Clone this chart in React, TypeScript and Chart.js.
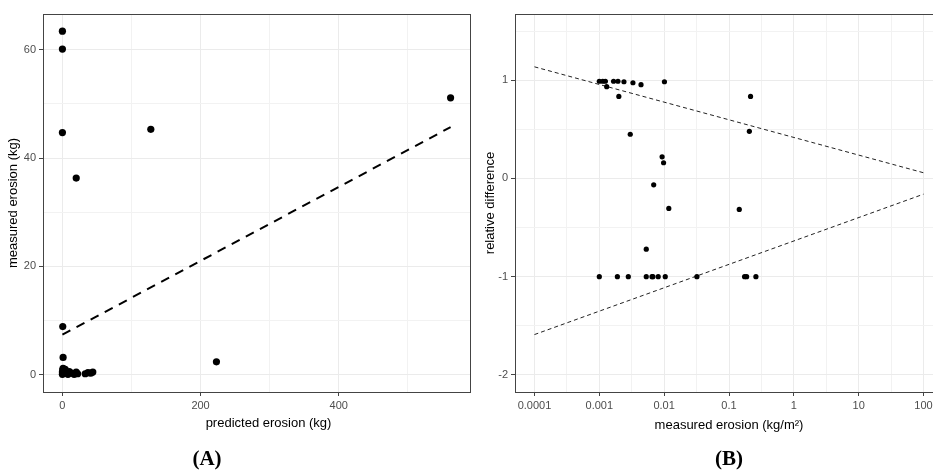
import React, { useEffect, useRef } from 'react';
import { Chart, registerables } from 'chart.js';

Chart.register(...registerables);

// ---------- Panel A: measured vs predicted erosion ----------
const predictedKg = [0, 0, 0, 20, 128, 562, 0.5, 1, 223, 0, 0, 0.5, 1, 2, 3, 4, 6, 8, 10, 13, 17, 20, 22, 33, 37, 41, 44];
const measuredKg = [63.4, 60.1, 44.7, 36.3, 45.3, 51.1, 8.9, 3.2, 2.4, 0.1, 0.5, 0.9, 1.2, 0.3, 0.7, 1.0, 0.4, 0.1, 0.6, 0.3, 0.1, 0.5, 0.2, 0.2, 0.4, 0.3, 0.5];
const fitPredictedKg = [0, 562];
const fitMeasuredKg = [7.4, 45.7];
const xTicksA = [0, 100, 200, 300, 400, 500];
const xLabelsA = ['0', '', '200', '', '400', ''];
const yTicksA = [0, 10, 20, 30, 40, 50, 60];
const yLabelsA = ['0', '', '20', '', '40', '', '60'];

// ---------- Panel B: relative difference vs measured erosion ----------
const measuredKgM2 = [0.001, 0.00113, 0.00124, 0.0013, 0.00166, 0.00194, 0.002, 0.0024, 0.0033, 0.003, 0.0044, 0.0101, 0.0093, 0.0098, 0.0069, 0.0118, 0.144, 0.206, 0.215, 0.001, 0.0019, 0.0028, 0.0053, 0.0065, 0.0067, 0.0081, 0.0104, 0.032, 0.174, 0.187, 0.26, 0.0053];
const relativeDiff = [0.99, 0.99, 0.99, 0.935, 0.99, 0.99, 0.835, 0.985, 0.975, 0.45, 0.955, 0.985, 0.22, 0.16, -0.065, -0.305, -0.315, 0.48, 0.835, -1, -1, -1, -1, -1, -1, -1, -1, -1, -1, -1, -1, -0.72];
const limitX = [0.0001, 100];
const upperLimitY = [1.137, 0.058];
const lowerLimitY = [-1.59, -0.16];
const xTicksB = [1e-4, Math.pow(10, -3.5), 1e-3, Math.pow(10, -2.5), 1e-2, Math.pow(10, -1.5), 1e-1, Math.pow(10, -0.5), 1, Math.pow(10, 0.5), 10, Math.pow(10, 1.5), 100];
const xLabelsB = ['0.0001', '', '0.001', '', '0.01', '', '0.1', '', '1', '', '10', '', '100'];
const yTicksB = [-2, -1.5, -1, -0.5, 0, 0.5, 1, 1.5];
const yLabelsB = ['-2', '', '-1', '', '0', '', '1', ''];

const FONT = "'Liberation Sans', Arial, sans-serif";
const GRID_MAJOR = '#ebebeb';
const GRID_MINOR = '#f2f2f2';
const AXIS_DARK = '#444444';
const TICK_TEXT = '#4d4d4d';

const pts = (xs: number[], ys: number[]) => xs.map((x, i) => ({ x, y: ys[i] }));

function tickScale(ticks: number[], labels: string[], padding: number, extra: any) {
  return {
    ...extra,
    bounds: 'data',
    afterBuildTicks: (scale: any) => {
      scale.ticks = ticks.map((v) => ({ value: v }));
    },
    ticks: {
      autoSkip: false,
      maxRotation: 0,
      minRotation: 0,
      padding,
      color: TICK_TEXT,
      font: { family: FONT, size: 11 },
      callback: (_v: any, i: number) => labels[i],
    },
    grid: {
      drawOnChartArea: true,
      drawTicks: true,
      tickLength: 4,
      lineWidth: 1,
      color: (ctx: any) => (labels[ctx.index] ? GRID_MAJOR : GRID_MINOR),
      tickColor: (ctx: any) => (labels[ctx.index] ? AXIS_DARK : 'rgba(0,0,0,0)'),
    },
    border: { display: false },
  };
}

const panelBox = {
  id: 'panelBox',
  afterDatasetsDraw(chart: any) {
    const { ctx, chartArea } = chart;
    const { left, top, right, bottom } = chartArea;
    ctx.save();
    ctx.strokeStyle = AXIS_DARK;
    ctx.lineWidth = 1;
    ctx.strokeRect(Math.round(left) + 0.5, Math.round(top) + 0.5, Math.round(right - left), Math.round(bottom - top));
    ctx.restore();
  },
};

const shiftedXTitle = {
  id: 'shiftedXTitle',
  afterDraw(chart: any, _args: any, opts: any) {
    if (!opts || !opts.text) return;
    const { ctx, chartArea } = chart;
    ctx.save();
    ctx.font = `13px ${FONT}`;
    ctx.fillStyle = '#000';
    ctx.textAlign = 'center';
    ctx.textBaseline = 'middle';
    ctx.fillText(opts.text, (chartArea.left + chartArea.right) / 2 + opts.dx, opts.y);
    ctx.restore();
  },
};

function configA(): any {
  return {
    type: 'scatter',
    data: {
      datasets: [
        {
          data: pts(fitPredictedKg, fitMeasuredKg),
          showLine: true,
          borderColor: '#000',
          borderWidth: 2,
          borderDash: [9, 7],
          pointRadius: 0,
          fill: false,
        },
        {
          data: pts(predictedKg, measuredKg),
          pointRadius: 3.6,
          pointBackgroundColor: '#000',
          pointBorderWidth: 0,
          showLine: false,
        },
      ],
    },
    plugins: [panelBox, shiftedXTitle],
    options: {
      animation: false,
      responsive: false,
      devicePixelRatio: 1,
      events: [],
      layout: { padding: { left: 0, right: 10, top: 14, bottom: 0 } },
      plugins: {
        legend: { display: false },
        tooltip: { enabled: false },
        shiftedXTitle: { text: 'predicted erosion (kg)', dx: 12, y: 423 },
      },
      scales: {
        x: tickScale(xTicksA, xLabelsA, 3, {
          type: 'linear',
          min: -28.1,
          max: 590.1,
          afterFit: (s: any) => { s.height = 83; },
        }),
        y: tickScale(yTicksA, yLabelsA, 3, {
          type: 'linear',
          min: -3.17,
          max: 66.57,
          afterFit: (s: any) => { s.width = 43; },
          title: {
            display: true,
            text: 'measured erosion (kg)',
            color: '#000',
            font: { family: FONT, size: 13 },
            padding: { top: 6, bottom: 0 },
          },
        }),
      },
    },
  };
}

function configB(): any {
  return {
    type: 'scatter',
    data: {
      datasets: [
        {
          data: pts(measuredKgM2, relativeDiff),
          pointRadius: 2.6,
          pointBackgroundColor: '#000',
          pointBorderWidth: 0,
          showLine: false,
        },
        {
          data: pts(limitX, upperLimitY),
          showLine: true,
          borderColor: '#222',
          borderWidth: 1,
          borderDash: [4, 3],
          pointRadius: 0,
          fill: false,
        },
        {
          data: pts(limitX, lowerLimitY),
          showLine: true,
          borderColor: '#222',
          borderWidth: 1,
          borderDash: [4, 3],
          pointRadius: 0,
          fill: false,
        },
      ],
    },
    plugins: [panelBox],
    options: {
      animation: false,
      responsive: false,
      devicePixelRatio: 1,
      events: [],
      layout: { padding: { left: 0, right: 7, top: 14, bottom: 0 } },
      plugins: { legend: { display: false }, tooltip: { enabled: false } },
      scales: {
        x: tickScale(xTicksB, xLabelsB, 3, {
          type: 'logarithmic',
          min: Math.pow(10, -4.3),
          max: Math.pow(10, 2.3),
          afterFit: (s: any) => { s.height = 83; },
          title: {
            display: true,
            text: 'measured erosion (kg/m²)',
            color: '#000',
            font: { family: FONT, size: 13 },
            padding: { top: 0, bottom: 42 },
          },
        }),
        y: tickScale(yTicksB, yLabelsB, 3, {
          type: 'linear',
          min: -2.175,
          max: 1.675,
          afterFit: (s: any) => { s.width = 45; },
          title: {
            display: true,
            text: 'relative difference',
            color: '#000',
            font: { family: FONT, size: 13 },
            padding: { top: 12.7, bottom: 0 },
          },
        }),
      },
    },
  };
}

function Panel({ make, left }: { make: () => any; left: number }) {
  const ref = useRef<HTMLCanvasElement>(null);
  useEffect(() => {
    const chart = new Chart(ref.current as HTMLCanvasElement, make());
    return () => chart.destroy();
  }, []);
  return (
    <canvas
      ref={ref}
      width={480}
      height={475}
      style={{ position: 'absolute', left, top: 0, width: 480, height: 475 }}
    />
  );
}

const labelStyle: React.CSSProperties = {
  position: 'absolute',
  top: 448,
  width: 80,
  textAlign: 'center',
  fontFamily: "'Liberation Serif', 'Times New Roman', serif",
  fontWeight: 'bold',
  fontSize: 21,
  lineHeight: '21px',
  color: '#000',
};

export default function App() {
  return (
    <div
      style={{
        position: 'absolute',
        left: 0,
        top: 0,
        width: 933,
        height: 475,
        overflow: 'hidden',
        background: '#fff',
      }}
    >
      <Panel make={configA} left={0} />
      <Panel make={configB} left={470} />
      <div style={{ ...labelStyle, left: 207 - 40 }}>(A)</div>
      <div style={{ ...labelStyle, left: 729 - 40 }}>(B)</div>
    </div>
  );
}
